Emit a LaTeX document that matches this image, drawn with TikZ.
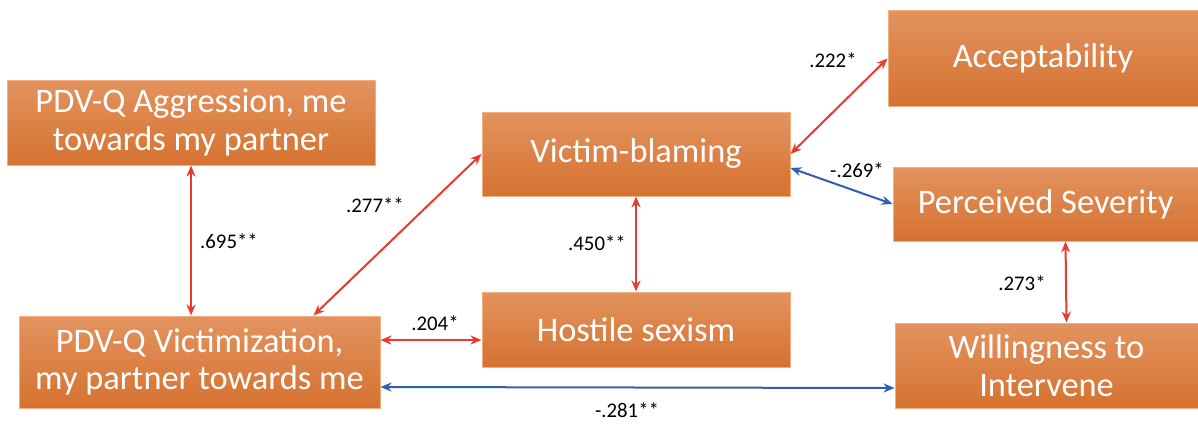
\documentclass[tikz,border=0pt]{standalone}
\usepackage{fontspec}
\setmainfont{Carlito}
\usetikzlibrary{arrows.meta}

\definecolor{boxtop}{HTML}{E3935F}
\definecolor{boxmid}{HTML}{E27E3C}
\definecolor{boxbot}{HTML}{D57230}
\definecolor{boxline}{HTML}{F2AE7E}
\definecolor{posred}{HTML}{EA3A30}
\definecolor{negblue}{HTML}{2F5FAE}

\begin{document}
\begin{tikzpicture}[x=0.5pt,y=-0.5pt,>={Stealth[length=5.5pt,width=4.5pt]},
                    line width=1pt]
\tikzstyle{factor}=[draw=boxline,line width=0.5pt,top color=boxtop,middle color=boxmid,
                    bottom color=boxbot,text=white,align=center,inner sep=0pt,
                    font=\fontsize{17.2}{18.8}\selectfont]
\tikzstyle{poscorr}=[<->,posred]
\tikzstyle{negcorr}=[<->,negblue]
\tikzstyle{coef}=[text=black,font=\fontsize{10.4}{12}\selectfont,inner sep=0pt]

\useasboundingbox (0,0) rectangle (1198,423);

\node[factor,minimum width=184pt,minimum height=42.5pt] (aggr)   at (191,122.5)  {PDV-Q Aggression, me\\towards my partner};
\node[factor,minimum width=180.5pt,minimum height=46pt] (victim) at (199.5,362)  {PDV-Q Victimization,\\my partner towards me};
\node[factor,minimum width=154pt,minimum height=42pt]   (blame)  at (636,154)    {Victim-blaming};
\node[factor,minimum width=154pt,minimum height=37.5pt] (hostile) at (636,329.5) {Hostile sexism};
\node[factor,minimum width=155pt,minimum height=48pt]   (accept) at (1043,58.5)  {Acceptability};
\node[factor,minimum width=152.5pt,minimum height=37pt] (severe) at (1045.5,204) {Perceived Severity};
\node[factor,minimum width=151.5pt,minimum height=42.5pt] (willing) at (1046.5,365.5) {Willingness to\\Intervene};

\draw[poscorr] (aggr.south) -- (aggr.south |- victim.north);
\draw[poscorr] ([xshift=-33.5pt]victim.north east) -- (blame.west);
\draw[poscorr] ([yshift=11pt]victim.east) -- ([yshift=-5.25pt]hostile.west);
\draw[poscorr] (blame.south) -- (hostile.north);
\draw[poscorr] (blame.east) -- (accept.west);
\draw[negcorr] ([yshift=-7pt]blame.east) -- (severe.west);
\draw[poscorr] ([xshift=10pt]severe.south) -- ([xshift=10pt]willing.north);
\draw[negcorr] ([yshift=-12.5pt]victim.east) -- ([yshift=-11.25pt]willing.west);

\node[coef] (c695) at (229,241) {.695**};
\node[coef] (c277) at (375,205) {.277**};
\node[coef] (c204) at (435,323) {.204*};
\node[coef] (c450) at (597,243) {.450**};
\node[coef] (c222) at (833,60)  {.222*};
\node[coef] (c269) at (857,170) {-.269*};
\node[coef] (c273) at (1022,283) {.273*};
\node[coef] (c281) at (627,410) {-.281**};

\end{tikzpicture}
\end{document}
